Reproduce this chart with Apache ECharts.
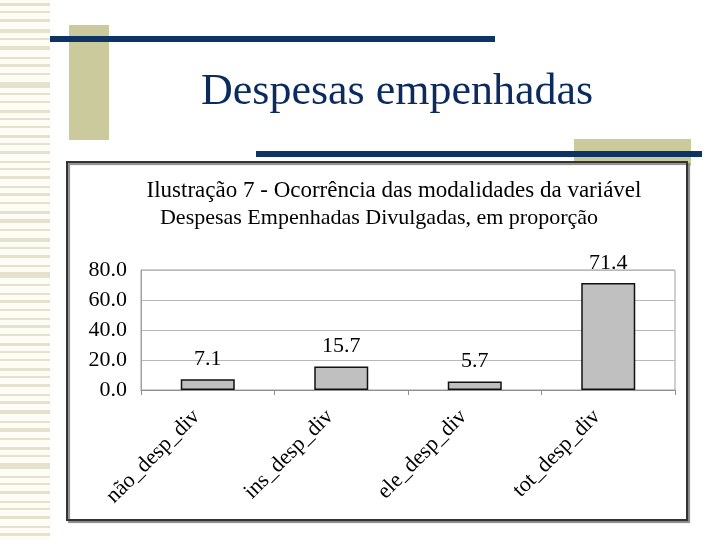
<!DOCTYPE html>
<html>
<head>
<meta charset="utf-8">
<script src="https://cdn.jsdelivr.net/npm/echarts@6/dist/echarts.min.js"></script>
<style>
html,body{margin:0;padding:0;background:#fff;}
#c{width:720px;height:540px;}
</style>
</head>
<body>
<div id="c"></div>
<script>
const categories = ['não_desp_div', 'ins_desp_div', 'ele_desp_div', 'tot_desp_div'];
const values = [7.1, 15.7, 5.7, 71.4];
const slideTitle = 'Despesas empenhadas';
const chartTitle1 = 'Ilustração 7 - Ocorrência das modalidades da variável';
const chartTitle2 = 'Despesas Empenhadas Divulgadas, em proporção';

const SERIF = '"Liberation Serif", "DejaVu Serif", serif';

// decorative stripes on left edge
const stripeHeights = [3, 2, 3, 4, 2, 4, 2, 3, 2, 6, 2, 2, 3, 2, 2, 3, 2, 3, 2, 2, 3, 2];
const deco = [];
let y = 3, k = 0;
while (y < 540) {
  const h = stripeHeights[k % stripeHeights.length];
  deco.push({type: 'rect', z: -20, shape: {x: 0, y: y, width: 50, height: h}, style: {fill: '#e4e2cc'}});
  y += h + 5 + (k % 3);
  k++;
}
deco.push({type: 'rect', z: -20, shape: {x: 0, y: 0, width: 50, height: 540}, style: {fill: '#fdfdf6'}, z2: -1});
deco.push({type: 'rect', z: -15, shape: {x: 69, y: 25, width: 40, height: 115}, style: {fill: '#cbca9c'}});
deco.push({type: 'rect', z: -14, shape: {x: 50, y: 36, width: 445, height: 6}, style: {fill: '#0c3566'}});
deco.push({type: 'rect', z: -15, shape: {x: 574, y: 139, width: 117, height: 27}, style: {fill: '#cbca9c'}});
deco.push({type: 'rect', z: -14, shape: {x: 256, y: 151, width: 446, height: 6}, style: {fill: '#0c3566'}});
deco.push({type: 'rect', z: -10, shape: {x: 67, y: 162, width: 620, height: 358},
  style: {fill: '#ffffff', stroke: '#333333', lineWidth: 2, shadowColor: '#888', shadowOffsetX: 2, shadowOffsetY: 2, shadowBlur: 1}});
deco.push({type: 'text', z: 5, x: 201, y: 70,
  style: {text: slideTitle, fill: '#0b2b5e', font: '44px ' + SERIF}});

const chart = echarts.init(document.getElementById('c'), null, {renderer: 'canvas'});
chart.setOption({
  backgroundColor: '#ffffff',
  animation: false,
  graphic: deco,
  title: [
    {text: chartTitle1, left: 389, top: 174, textAlign: 'center',
     textStyle: {fontFamily: SERIF, fontWeight: 'normal', fontSize: 23, color: '#000'}},
    {text: chartTitle2, left: 374, top: 202, textAlign: 'center',
     textStyle: {fontFamily: SERIF, fontWeight: 'normal', fontSize: 22, color: '#000'}}
  ],
  grid: {left: 141, right: 45, top: 270, bottom: 150, show: true, borderColor: '#a0a0a0', borderWidth: 1, backgroundColor: 'transparent'},
  xAxis: {
    type: 'category',
    data: categories,
    axisLine: {show: true, lineStyle: {color: '#909090', width: 1}},
    axisTick: {show: true, length: 5, lineStyle: {color: '#909090'}},
    axisLabel: {rotate: 45, margin: 12, padding: [0, 16, 0, 0], fontFamily: SERIF, fontSize: 22, color: '#000'}
  },
  yAxis: {
    type: 'value', min: 0, max: 80, interval: 20,
    axisLine: {show: true, lineStyle: {color: '#a0a0a0'}},
    axisTick: {show: false},
    splitLine: {lineStyle: {color: '#b8b8b8', width: 1}},
    axisLabel: {margin: 14, fontFamily: SERIF, fontSize: 22, color: '#000', formatter: v => v.toFixed(1)}
  },
  series: [{
    type: 'bar',
    data: values,
    barWidth: 54,
    itemStyle: {color: '#c0c0c0', borderColor: '#111', borderWidth: 1.5},
    label: {show: true, position: 'top', distance: 9, fontFamily: SERIF, fontSize: 22, color: '#000', formatter: p => p.value.toFixed(1)}
  }]
});
</script>
</body>
</html>
